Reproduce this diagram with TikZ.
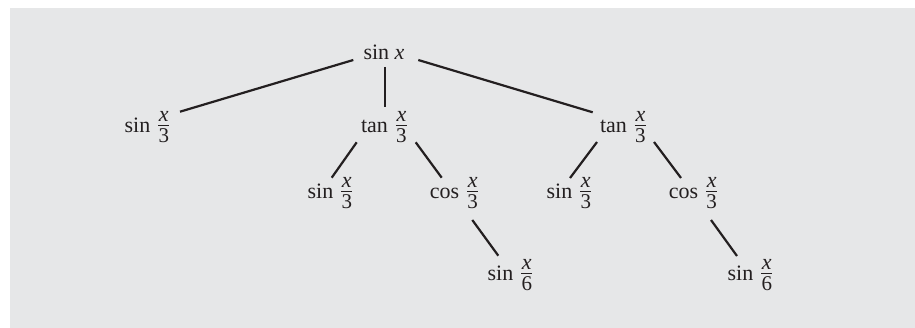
\documentclass[tikz,border=0pt]{standalone}
\usepackage{fontspec}
\setmainfont{Liberation Serif}
\usetikzlibrary{calc}
\definecolor{bg}{RGB}{230,231,232}
\definecolor{ink}{RGB}{35,31,32}
\newlength{\frw}
\newcommand{\fr}[1]{%
  \setbox0\hbox{\fontsize{22}{22}\selectfont\itshape x}%
  \setbox2\hbox{\fontsize{21}{21}\selectfont #1}%
  \ifdim\wd0>\wd2 \setlength{\frw}{\wd0}\else\setlength{\frw}{\wd2}\fi
  \addtolength{\frw}{0.6pt}%
  \hbox{\rlap{\hbox to\frw{\hss\raise11.5pt\box0\hss}}%
        \rlap{\rule[7pt]{\frw}{0.9pt}}%
        \hbox to\frw{\hss\lower10pt\box2\hss}}}
\tikzset{
  term/.style={inner sep=0pt, anchor=base, text=ink, font=\fontsize{22}{26}\selectfont},
  edge/.style={draw=ink, line width=2.2pt}
}
\begin{document}
\begin{tikzpicture}[x=1pt, y=-1pt]
\useasboundingbox (0,0) rectangle (915,328);
\fill[bg] (10,8) rectangle (915,328);
% nodes
\node[term] (s0) at (384,60) {sin \textit{x}};
\node[term] (a1) at (147,133) {sin\hspace{8pt}\fr{3}};
\node[term] (a2) at (384,133) {tan\hspace{8pt}\fr{3}};
\node[term] (a3) at (623,133) {tan\hspace{8pt}\fr{3}};
\node[term] (b1) at (330,199) {sin\hspace{8pt}\fr{3}};
\node[term] (b2) at (454,199) {cos\hspace{8pt}\fr{3}};
\node[term] (b3) at (569,199) {sin\hspace{8pt}\fr{3}};
\node[term] (b4) at (693,199) {cos\hspace{8pt}\fr{3}};
\node[term] (c1) at (510,281) {sin\hspace{8pt}\fr{6}};
\node[term] (c2) at (750,281) {sin\hspace{8pt}\fr{6}};
% connectors
\draw[edge] ($(s0.base)+(-30.7,0)$) -- ($(a1.base)+(33,-21.3)$);
\draw[edge] ($(s0.base)+(1,7)$) -- ($(a2.base)+(1,-26)$);
\draw[edge] ($(s0.base)+(34.3,0)$) -- ($(a3.base)+(-30.3,-20.7)$);
\draw[edge] ($(a2.base)+(-27.3,9.3)$) -- ($(b1.base)+(1.7,-21.3)$);
\draw[edge] ($(a2.base)+(31.7,9.3)$) -- ($(b2.base)+(-12.3,-21.3)$);
\draw[edge] ($(b2.base)+(18.3,21)$) -- ($(c1.base)+(-11.7,-25.3)$);
\draw[edge] ($(a3.base)+(-26,9)$) -- ($(b3.base)+(1,-21)$);
\draw[edge] ($(a3.base)+(31,9)$) -- ($(b4.base)+(-12,-21)$);
\draw[edge] ($(b4.base)+(18,21)$) -- ($(c2.base)+(-13,-25)$);
\end{tikzpicture}
\end{document}
